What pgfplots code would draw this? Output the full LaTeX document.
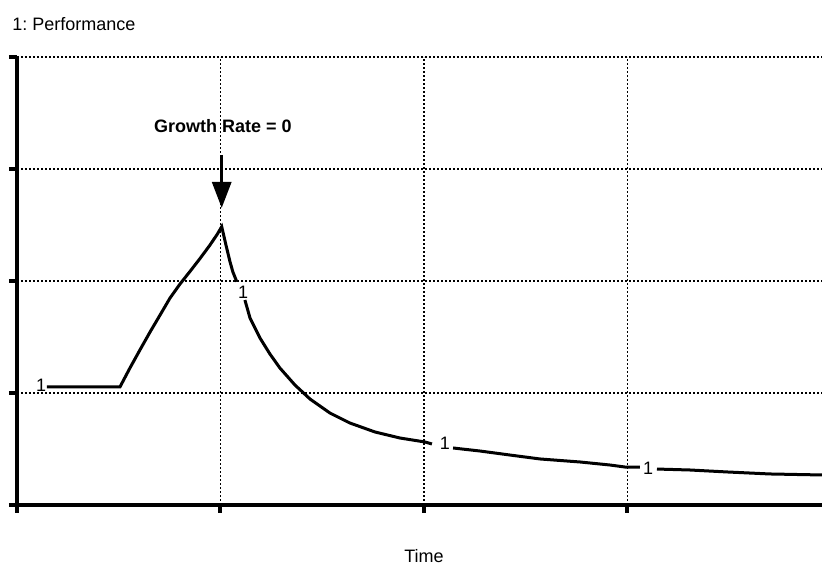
\documentclass[border=0pt]{standalone}
\usepackage{fontspec}
\setmainfont{Liberation Sans}
\usepackage{pgfplots}
\pgfplotsset{compat=1.18}
\usetikzlibrary{arrows.meta}
\frenchspacing
\begin{document}
\begin{tikzpicture}
\useasboundingbox (-8.5pt,-30pt) rectangle (402.5pt,252.5pt);
\begin{axis}[
  at={(0,0)}, anchor=origin,
  scale only axis,
  width=402.5pt, height=224pt,
  xmin=0, xmax=3.956, ymin=0, ymax=4,
  axis x line*=bottom, axis y line*=left,
  axis line style={line width=2pt,-},
  xtick={0,1,2,3}, ytick={0,1,2,3,4},
  xticklabels={}, yticklabels={},
  tick align=outside,
  major tick length=4pt,
  tick style={line width=2pt,black},
  grid=major,
  major grid style={line width=0.9pt,black,dash pattern=on 0.9pt off 1.1pt},
  clip=false,
]
\addplot[black,line width=1.5pt] coordinates {
 (0.147,1.054) (0.506,1.054) (0.555,1.223) (0.604,1.384) (0.654,1.545)
 (0.703,1.696) (0.752,1.848) (0.801,1.973) (0.850,2.085) (0.899,2.200)
 (0.948,2.320) (0.985,2.420) (1.006,2.485) (1.027,2.32) (1.047,2.17) (1.061,2.08) (1.080,1.994)
};
\addplot[black,line width=1.5pt] coordinates {
 (1.120,1.830) (1.145,1.670) (1.194,1.491) (1.243,1.348) (1.292,1.223)
 (1.366,1.071) (1.440,0.946) (1.538,0.821) (1.636,0.732) (1.759,0.652)
 (1.882,0.598) (2.005,0.5625) (2.039,0.545)
};
\addplot[black,line width=1.5pt] coordinates {
 (2.143,0.509) (2.275,0.482) (2.423,0.446) (2.570,0.411) (2.767,0.384)
 (2.914,0.357) (2.988,0.339) (3.061,0.339)
};
\addplot[black,line width=1.5pt] coordinates {
 (3.145,0.321) (3.307,0.3125) (3.489,0.295) (3.700,0.277) (3.956,0.268)
};
\node[font=\fontsize{9}{10}\selectfont] at (axis cs:0.118,1.07) {1};
\node[font=\fontsize{9}{10}\selectfont] at (axis cs:1.111,1.90) {1};
\node[font=\fontsize{9}{10}\selectfont] at (axis cs:2.103,0.55) {1};
\node[font=\fontsize{9}{10}\selectfont] at (axis cs:3.101,0.33) {1};
\draw[line width=1.5pt,-{Triangle[width=9.5pt,length=13pt]}] (axis cs:1.006,3.125) -- (axis cs:1.006,2.652);
\node[font=\bfseries\fontsize{9}{10}\selectfont,anchor=base,inner sep=0pt] at (axis cs:1.012,3.33) {Growth Rate = 0};
\end{axis}
\node[anchor=base west,inner sep=0pt,font=\fontsize{9}{10}\selectfont] at (-2.5pt,237pt) {1: Performance};
\node[anchor=base,inner sep=0pt,font=\fontsize{9}{10}\selectfont] at (203.5pt,-29pt) {Time};
\end{tikzpicture}
\end{document}
